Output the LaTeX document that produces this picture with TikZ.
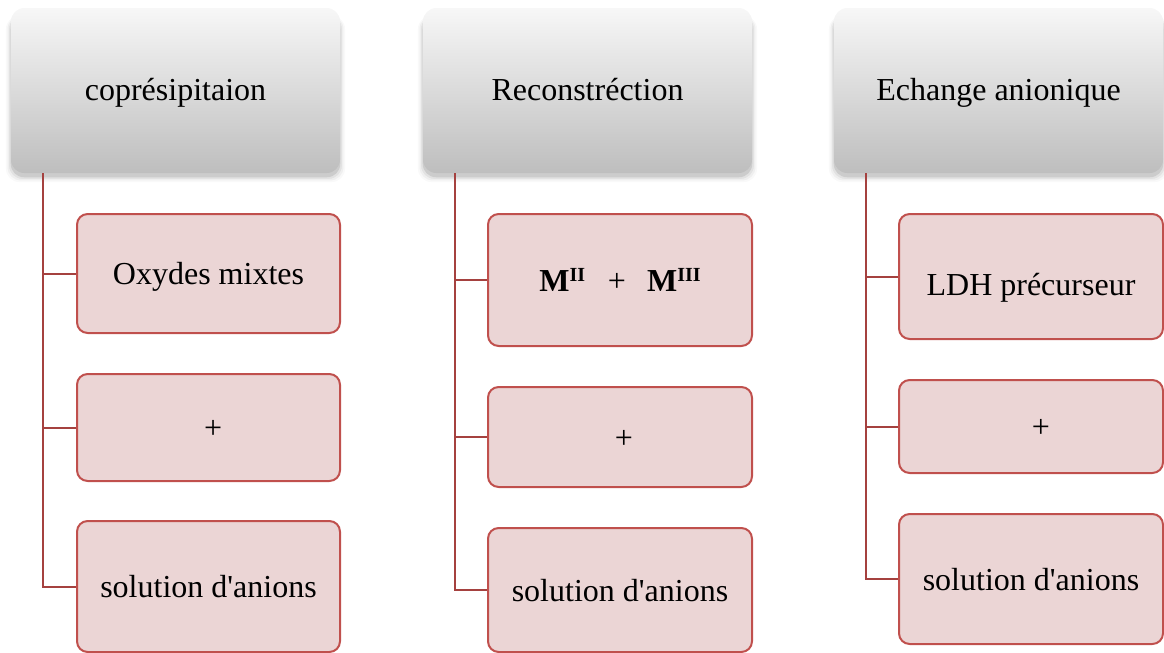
\documentclass[tikz,border=0pt]{standalone}
\usepackage{fontspec}
\setmainfont{Liberation Serif}
\usetikzlibrary{backgrounds}
\definecolor{boxfill}{HTML}{EBD5D5}
\definecolor{boxline}{HTML}{C0504D}
\definecolor{connline}{HTML}{A5413F}
\definecolor{hdtop}{HTML}{F7F7F7}
\definecolor{hdmid}{HTML}{E6E6E6}
\definecolor{hdbot}{HTML}{BEBEBE}
\newcommand{\supr}[1]{\raisebox{7pt}{\fontsize{15pt}{15pt}\selectfont #1}}
\tikzset{
  header/.style={rounded corners=10pt, top color=hdtop, middle color=hdmid, bottom color=hdbot,
    minimum width=246.75pt, minimum height=123.75pt, inner sep=0pt,
    font=\fontsize{24pt}{28pt}\selectfont, text height=14.25pt, text depth=0pt},
  leaf/.style={rounded corners=8pt, draw=boxline, line width=1.5pt, fill=boxfill,
    inner sep=0pt, font=\fontsize{24pt}{28pt}\selectfont, text height=16.5pt, text depth=0pt},
  conn/.style={draw=connline, line width=1.5pt},
  hshadow/.style={fill=black, rounded corners=10pt}
}
\begin{document}
\begin{tikzpicture}[x=0.75pt,y=-0.75pt]
\useasboundingbox (0,0) rectangle (1164,653);

% headers
\node[header] (h1) at (175.5,90.5) {coprésipitaion};
\node[header] (h2) at (587.5,90.5) {Reconstréction};
\node[header] (h3) at (998.5,90.5) {Echange anionique};

% column 1
\node[leaf, minimum width=197.25pt, minimum height=89.25pt] (b11) at (208.5,273.5) {Oxydes mixtes};
\node[leaf, minimum width=197.25pt, minimum height=80.25pt] (b12) at (208.5,427.5) {\hspace{7pt}+};
\node[leaf, minimum width=197.25pt, minimum height=98.25pt] (b13) at (208.5,586.5) {solution d\textquotesingle anions};

% column 2
\node[leaf, minimum width=198pt, minimum height=99pt] (b21) at (620,280)
  {\textbf{M\supr{II}}\hspace{17pt}+\hspace{16pt}\textbf{M\supr{III}}};
\node[leaf, minimum width=198pt, minimum height=75pt] (b22) at (620,437) {\hspace{6pt}+};
\node[leaf, minimum width=198pt, minimum height=93pt] (b23) at (620,590) {solution d\textquotesingle anions};

% column 3
\node[leaf, minimum width=198pt, minimum height=93.75pt, text height=27.75pt] (b31) at (1031,276.5) {LDH précurseur};
\node[leaf, minimum width=198pt, minimum height=69.75pt] (b32) at (1031,426.5) {\hspace{15pt}+};
\node[leaf, minimum width=198pt, minimum height=97.5pt] (b33) at (1031,579) {solution d\textquotesingle anions};

% connectors
\foreach \h/\a/\b/\c in {h1/b11/b12/b13, h2/b21/b22/b23, h3/b31/b32/b33}{
  \draw[conn] ([xshift=24pt]\h.south west) |- (\a.west);
  \draw[conn] ([xshift=24pt]\h.south west) |- (\b.west);
  \draw[conn] ([xshift=24pt]\h.south west) |- (\c.west);
}

% soft shadows under headers
\begin{pgfonlayer}{background}
\foreach \h in {h1,h2,h3}{
  \foreach \k/\op in {0/0.09, 1.2/0.06, 2.4/0.04, 3.6/0.025}{
    \fill[hshadow, opacity=\op] ([xshift=-\k pt, yshift=-3pt-\k pt]\h.south west) rectangle ([xshift=\k pt, yshift=-6pt]\h.north east);
  }
}
\end{pgfonlayer}
\end{tikzpicture}
\end{document}
